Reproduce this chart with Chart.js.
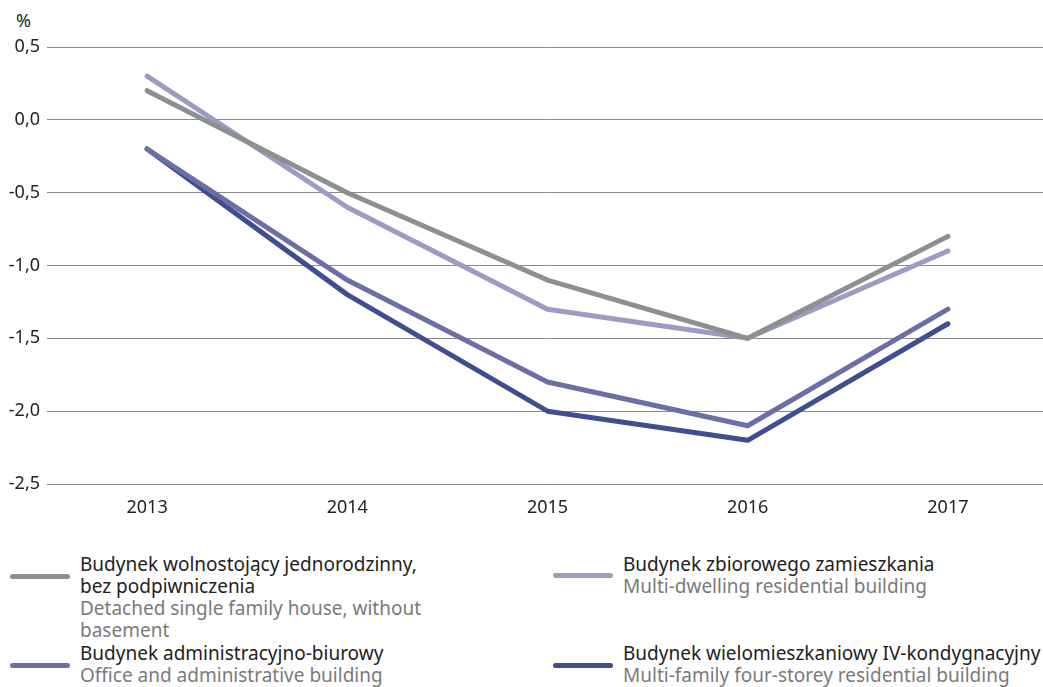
<!DOCTYPE html>
<html>
<head>
<meta charset="utf-8">
<script src="https://cdn.jsdelivr.net/npm/chart.js@4/dist/chart.umd.min.js"></script>
<style>
  html, body { margin: 0; padding: 0; background: #fff; overflow: hidden; width: 1043px; height: 687px; }
  body { position: relative; font-family: "Noto Sans", sans-serif; }
  #wrap { position: absolute; left: 0; top: 0; width: 1048px; height: 530px; }
  #unit { position: absolute; left: 16px; top: 8px; font-size: 18px; color: #222; }
  .leg { position: absolute; font-size: 19px; line-height: 22px; }
  .leg .pl { color: #222; }
  .leg .en { color: #7a7a7a; }
  .sw { position: absolute; width: 60px; height: 5px; border-radius: 3px; }
</style>
</head>
<body>
<div id="unit">%</div>
<div id="wrap"><canvas id="graph1" width="1048" height="530"></canvas></div>
<div id="legend"></div>
<script>
const years = ["2013", "2014", "2015", "2016", "2017"];

const detachedHouse = [0.2, -0.5, -1.1, -1.5, -0.8];
const multiDwelling = [0.3, -0.6, -1.3, -1.5, -0.9];
const officeBuilding = [-0.2, -1.1, -1.8, -2.1, -1.3];
const fourStorey = [-0.2, -1.2, -2.0, -2.2, -1.4];

const yTicks = [0.5, 0.0, -0.5, -1.0, -1.5, -2.0, -2.5];

const labelsPl = [
  "Budynek wolnostojący jednorodzinny, bez podpiwniczenia",
  "Budynek zbiorowego zamieszkania",
  "Budynek administracyjno-biurowy",
  "Budynek wielomieszkaniowy IV-kondygnacyjny"
];
const labelsEn = [
  "Detached single family house, without basement",
  "Multi-dwelling residential building",
  "Office and administrative building",
  "Multi-family four-storey residential building"
];
const colors = ["#8b9090", "#9b9bc4", "#6b6fa6", "#3f4e8e"];
const series = [detachedHouse, multiDwelling, officeBuilding, fourStorey];

const graph1 = new Chart(document.getElementById("graph1").getContext("2d"), {
  type: "line",
  data: {
    labels: years,
    datasets: series.map((s, i) => ({
      label: labelsPl[i],
      data: s,
      borderColor: colors[i],
      backgroundColor: colors[i],
      borderWidth: 5,
      borderCapStyle: "round",
      borderJoinStyle: "round",
      pointRadius: 0,
      tension: 0,
      fill: false,
    })),
  },
  options: {
    responsive: false,
    animation: false,
    layout: { padding: { top: 47, right: 0, bottom: 0, left: 0 } },
    plugins: {
      legend: { display: false },
      tooltip: { enabled: false },
    },
    scales: {
      x: {
        offset: true,
        grid: { display: false, drawTicks: false },
        border: { display: false },
        ticks: {
          color: "#222",
          padding: 13,
          font: { family: "Noto Sans", size: 18 },
        },
        afterFit: (axis) => { axis.height = 46; },
      },
      y: {
        min: -2.5,
        max: 0.5,
        afterBuildTicks: (axis) => { axis.ticks = yTicks.map(v => ({ value: v })); },
        grid: { color: "#8a8a8a", lineWidth: 1, drawTicks: false },
        border: { display: false },
        ticks: {
          color: "#222",
          padding: 7,
          font: { family: "Noto Sans", size: 18 },
          callback: (v) => v.toFixed(1).replace(".", ","),
        },
        afterFit: (axis) => { axis.width = 47; },
      },
    },
  }
});

// legend below the chart, two columns
const legendPos = [
  { x: 10, y: 553, lineY: 576 },
  { x: 553, y: 553, lineY: 575 },
  { x: 10, y: 642, lineY: 665 },
  { x: 553, y: 642, lineY: 665 },
];
const legend = document.getElementById("legend");
legendPos.forEach((p, i) => {
  const sw = document.createElement("div");
  sw.className = "sw";
  sw.style.left = p.x + "px";
  sw.style.top = (p.lineY - 2) + "px";
  sw.style.background = colors[i];
  legend.appendChild(sw);
  const box = document.createElement("div");
  box.className = "leg";
  box.style.left = (p.x + 70) + "px";
  box.style.top = p.y + "px";
  if (i % 2 === 0) {
    box.style.width = "350px";
  } else {
    box.style.whiteSpace = "nowrap";
  }
  box.innerHTML = '<div class="pl">' + labelsPl[i] + '</div><div class="en">' + labelsEn[i] + '</div>';
  legend.appendChild(box);
});
</script>
</body>
</html>
